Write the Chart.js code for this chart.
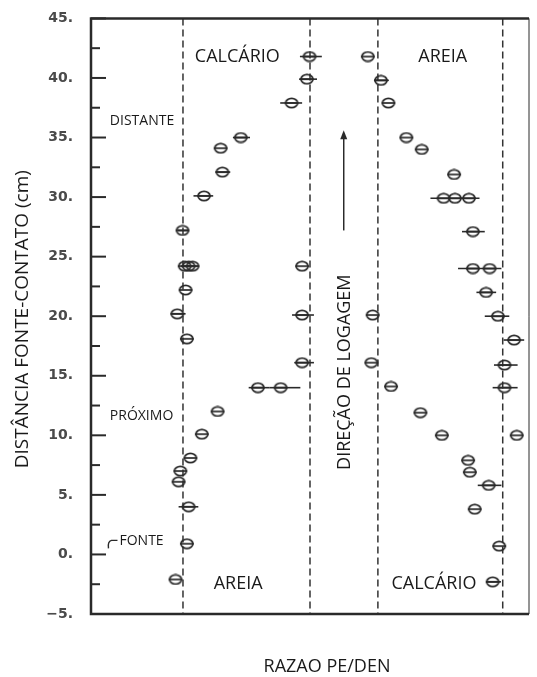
<!DOCTYPE html>
<html>
<head>
<meta charset="utf-8">
<script src="https://cdn.jsdelivr.net/npm/chart.js@4.4.1/dist/chart.umd.min.js"></script>
<style>
body{margin:0;background:#fff;}
#wrap{width:537px;height:677px;position:relative;}
</style>
</head>
<body>
<div id="wrap"><canvas id="chart"></canvas></div>
<script>
// distance source-contact (cm) and PE/DEN ratio (arbitrary units, 0-100 across the frame)
const leftDist  = [41.8, 39.9, 37.9, 35.0, 34.1, 32.1, 30.1, 27.2, 24.2, 24.2, 24.2, 22.2, 20.2, 18.1, 24.2, 20.1, 16.1, 14.0, 14.0, 12.0, 10.1, 8.1, 7.0, 6.1, 4.0, 0.9, -2.1];
const leftRatio = [49.9, 49.3, 45.8, 34.2, 29.6, 30.0, 25.8, 20.9, 21.4, 22.3, 23.2, 21.6, 19.7, 21.9, 48.2, 48.2, 48.2, 38.1, 43.3, 28.9, 25.3, 22.7, 20.4, 20.0, 22.3, 21.9, 19.3];
const leftLo    = [47.7, 47.5, 43.2, 32.4, null, 28.4, 23.4, 19.8, null, 20.5, null, null, 18.2, null, null, 45.9, 46.4, 36.0, 40.7, null, null, null, null, null, 20.0, null, null];
const leftHi    = [52.7, 51.6, 48.2, 36.3, null, 31.8, 27.9, 22.2, null, 24.5, null, null, 21.6, null, null, 50.9, 50.9, 40.7, 47.8, null, null, null, null, null, 24.5, null, null];

const rightDist  = [41.8, 39.8, 37.9, 35.0, 34.0, 31.9, 29.9, 29.9, 29.9, 27.1, 24.0, 24.0, 22.0, 20.0, 18.0, 20.1, 16.1, 14.1, 15.9, 14.0, 11.9, 10.0, 10.0, 7.9, 6.9, 5.8, 3.8, 0.7, -2.3];
const rightRatio = [63.2, 66.2, 67.9, 72.0, 75.5, 82.9, 80.5, 83.1, 86.3, 87.2, 87.2, 91.0, 90.2, 92.9, 96.6, 64.3, 64.0, 68.5, 94.4, 94.4, 75.2, 80.1, 97.2, 86.1, 86.5, 90.8, 87.6, 93.2, 91.7];
const rightLo    = [null, 64.6, null, null, null, null, 77.5, null, null, 84.7, 83.8, null, 88.0, 89.9, 94.2, null, null, null, 92.0, 91.7, null, null, null, null, null, 88.3, null, null, 90.2];
const rightHi    = [null, 68.0, null, null, null, null, 88.7, null, null, 89.9, 93.7, null, 92.5, 95.5, 98.9, null, null, null, 97.4, 97.4, null, null, null, null, null, 93.7, null, null, 93.6];

const boundaries = [21, 50, 65.5, 94];
const yTicksMajor = [-5, 0, 5, 10, 15, 20, 25, 30, 35, 40, 45];

const ink = "#2a2a2a";

// small "⊖" marker
function makeMarker(){
  const c = document.createElement("canvas");
  c.width = 16; c.height = 12;
  const g = c.getContext("2d");
  g.strokeStyle = ink;
  g.lineWidth = 1.7;
  g.beginPath();
  g.ellipse(8, 6, 6, 4.6, 0, 0, Math.PI * 2);
  g.stroke();
  g.beginPath();
  g.moveTo(1, 6); g.lineTo(15, 6);
  g.stroke();
  return c;
}
const marker = makeMarker();

function toPoints(xs, ys, lo, hi){
  return xs.map((x, i) => ({x: x, y: ys[i], lo: lo[i], hi: hi[i]}));
}

const labels = [
  {t: "CALCÁRIO", x: 33.4, y: 41.8, size: 18, align: "center"},
  {t: "AREIA", x: 80.3, y: 41.8, size: 18, align: "center"},
  {t: "DISTANTE", x: 4.3, y: 36.4, size: 14, align: "left"},
  {t: "PRÓXIMO", x: 4.3, y: 11.6, size: 14, align: "left"},
  {t: "FONTE", x: 6.5, y: 1.1, size: 14, align: "left"},
  {t: "AREIA", x: 33.6, y: -2.5, size: 18, align: "center"},
  {t: "CALCÁRIO", x: 78.3, y: -2.5, size: 18, align: "center"}
];

const decor = {
  id: "decor",
  beforeDatasetsDraw(chart){
    const ctx = chart.ctx;
    const xs = chart.scales.x, ys = chart.scales.y;
    const a = chart.chartArea;
    ctx.save();
    // dashed boundaries
    ctx.strokeStyle = "#333";
    ctx.lineWidth = 1.5;
    ctx.setLineDash([7, 4]);
    boundaries.forEach(b => {
      const px = xs.getPixelForValue(b);
      ctx.beginPath(); ctx.moveTo(px, a.top); ctx.lineTo(px, a.bottom); ctx.stroke();
    });
    ctx.setLineDash([]);
    // frame
    ctx.strokeStyle = ink;
    ctx.lineWidth = 2.5;
    ctx.beginPath();
    ctx.moveTo(a.right, a.top); ctx.lineTo(a.left, a.top); ctx.lineTo(a.left, a.bottom); ctx.lineTo(a.right, a.bottom);
    ctx.stroke();
    ctx.lineWidth = 1;
    ctx.beginPath(); ctx.moveTo(a.right, a.top); ctx.lineTo(a.right, a.bottom); ctx.stroke();
    // inward ticks
    ctx.lineWidth = 2;
    ys.ticks.forEach(t => {
      const py = ys.getPixelForValue(t.value);
      const len = (t.value % 5 === 0) ? 15 : 9;
      ctx.beginPath(); ctx.moveTo(a.left, py); ctx.lineTo(a.left + len, py); ctx.stroke();
    });
    // error bars
    ctx.lineWidth = 1.6;
    chart.data.datasets.forEach(ds => {
      ds.data.forEach(p => {
        if (p.lo == null) return;
        const py = ys.getPixelForValue(p.y);
        ctx.beginPath();
        ctx.moveTo(xs.getPixelForValue(p.lo), py);
        ctx.lineTo(xs.getPixelForValue(p.hi), py);
        ctx.stroke();
      });
    });
    // arrow
    const ax = xs.getPixelForValue(57.7);
    const y0 = ys.getPixelForValue(27.2), y1 = ys.getPixelForValue(35.6);
    ctx.lineWidth = 1.5;
    ctx.beginPath(); ctx.moveTo(ax, y0); ctx.lineTo(ax, y1 + 6); ctx.stroke();
    ctx.fillStyle = ink;
    ctx.beginPath(); ctx.moveTo(ax, y1); ctx.lineTo(ax - 3.5, y1 + 9); ctx.lineTo(ax + 3.5, y1 + 9); ctx.closePath(); ctx.fill();
    // little hook before FONTE
    const fx = xs.getPixelForValue(6.5), fy = ys.getPixelForValue(1.1);
    ctx.lineWidth = 1.4;
    ctx.beginPath();
    ctx.moveTo(fx - 11, fy + 7);
    ctx.quadraticCurveTo(fx - 12, fy, fx - 8, fy - 1);
    ctx.lineTo(fx - 2, fy - 1);
    ctx.stroke();
    ctx.restore();
  },
  afterDraw(chart){
    const ctx = chart.ctx;
    const xs = chart.scales.x, ys = chart.scales.y;
    const a = chart.chartArea;
    ctx.save();
    ctx.fillStyle = "#1a1a1a";
    ctx.textBaseline = "middle";
    labels.forEach(l => {
      ctx.font = l.size + "px 'Open Sans'";
      ctx.textAlign = l.align;
      ctx.fillText(l.t, xs.getPixelForValue(l.x), ys.getPixelForValue(l.y));
    });
    // rotated label inside the plot
    ctx.save();
    ctx.translate(xs.getPixelForValue(57.9), ys.getPixelForValue(15.3));
    ctx.rotate(-Math.PI / 2);
    ctx.font = "18px 'Open Sans'";
    ctx.textAlign = "center";
    ctx.fillText("DIREÇÃO DE LOGAGEM", 0, 0);
    ctx.restore();
    // axis titles
    ctx.save();
    ctx.translate(23, (a.top + a.bottom) / 2 + 3);
    ctx.rotate(-Math.PI / 2);
    ctx.font = "19px 'Open Sans'";
    ctx.textAlign = "center";
    ctx.fillText("DISTÂNCIA FONTE-CONTATO (cm)", 0, 0);
    ctx.restore();
    ctx.font = "18px 'Open Sans'";
    ctx.textAlign = "center";
    ctx.fillText("RAZAO PE/DEN", (a.left + a.right) / 2 + 17, a.bottom + 53);
    ctx.restore();
  }
};

new Chart(document.getElementById("chart"), {
  type: "scatter",
  data: {
    datasets: [
      {label: "esquerda", data: toPoints(leftRatio, leftDist, leftLo, leftHi), pointStyle: marker, pointRadius: 7},
      {label: "direita", data: toPoints(rightRatio, rightDist, rightLo, rightHi), pointStyle: marker, pointRadius: 7}
    ]
  },
  options: {
    responsive: true,
    maintainAspectRatio: false,
    animation: false,
    layout: {padding: {top: 15, right: 2, left: 0, bottom: 0}},
    plugins: {legend: {display: false}, tooltip: {enabled: false}},
    scales: {
      x: {
        type: "linear", min: 0, max: 100,
        grid: {display: false}, border: {display: false},
        ticks: {display: false},
        afterFit(scale){ scale.height = 63; }
      },
      y: {
        type: "linear", min: -5, max: 45,
        grid: {display: false}, border: {display: false},
        ticks: {
          stepSize: 2.5,
          padding: 10,
          color: "#4a4a4a",
          font: {family: "'DejaVu Sans'", size: 14, weight: "bold"},
          callback(v){
            if (!yTicksMajor.includes(v)) return "";
            return (v < 0 ? "\u2212" + Math.abs(v) : v) + ".";
          }
        },
        afterFit(scale){ scale.width = 91; }
      }
    }
  },
  plugins: [decor]
});
</script>
</body>
</html>
